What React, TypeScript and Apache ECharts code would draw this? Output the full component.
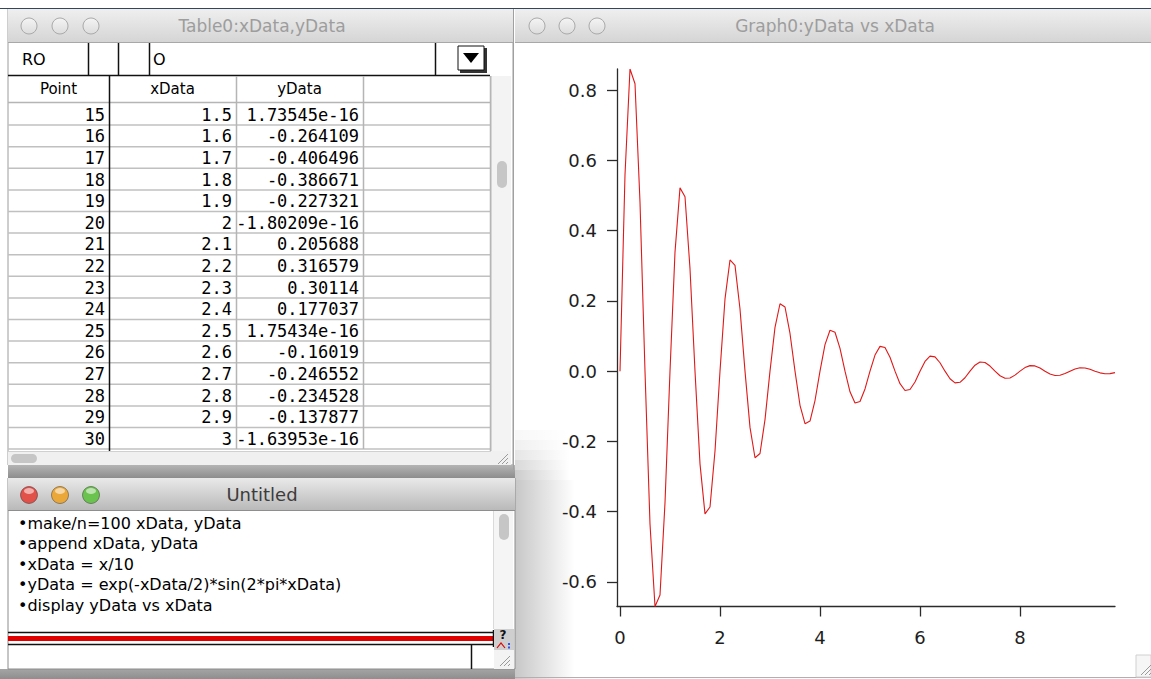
import React, { useEffect, useRef } from "react";
import * as echarts from "echarts";

// ---------- data ----------
const xData = [
  0, 0.1, 0.2, 0.3, 0.4, 0.5, 0.6, 0.7, 0.8, 0.9,
  1, 1.1, 1.2, 1.3, 1.4, 1.5, 1.6, 1.7, 1.8, 1.9,
  2, 2.1, 2.2, 2.3, 2.4, 2.5, 2.6, 2.7, 2.8, 2.9,
  3, 3.1, 3.2, 3.3, 3.4, 3.5, 3.6, 3.7, 3.8, 3.9,
  4, 4.1, 4.2, 4.3, 4.4, 4.5, 4.6, 4.7, 4.8, 4.9,
  5, 5.1, 5.2, 5.3, 5.4, 5.5, 5.6, 5.7, 5.8, 5.9,
  6, 6.1, 6.2, 6.3, 6.4, 6.5, 6.6, 6.7, 6.8, 6.9,
  7, 7.1, 7.2, 7.3, 7.4, 7.5, 7.6, 7.7, 7.8, 7.9,
  8, 8.1, 8.2, 8.3, 8.4, 8.5, 8.6, 8.7, 8.8, 8.9,
  9, 9.1, 9.2, 9.3, 9.4, 9.5, 9.6, 9.7, 9.8, 9.9,
];
const yData = [
  0, 0.5591, 0.8605, 0.8186, 0.4812, 0, -0.4354, -0.6702, -0.6375, -0.3748,
  0, 0.3391, 0.522, 0.4965, 0.2919, 0, -0.2641, -0.4065, -0.3867, -0.2273,
  0, 0.2057, 0.3166, 0.3011, 0.177, 0, -0.1602, -0.2466, -0.2345, -0.1379,
  0, 0.1248, 0.192, 0.1827, 0.1074, 0, -0.0972, -0.1495, -0.1422, -0.0836,
  0, 0.0757, 0.1165, 0.1108, 0.0651, 0, -0.0589, -0.0907, -0.0863, -0.0507,
  0, 0.0459, 0.0706, 0.0672, 0.0395, 0, -0.0357, -0.055, -0.0523, -0.0308,
  0, 0.0278, 0.0428, 0.0408, 0.024, 0, -0.0217, -0.0334, -0.0317, -0.0187,
  0, 0.0169, 0.026, 0.0247, 0.0145, 0, -0.0131, -0.0202, -0.0193, -0.0113,
  0, 0.0102, 0.0158, 0.015, 0.0088, 0, -0.008, -0.0123, -0.0117, -0.0069,
  0, 0.0062, 0.0096, 0.0091, 0.0053, 0, -0.0048, -0.0074, -0.0071, -0.0042,
];
const xTicks = [0, 2, 4, 6, 8];
const yTicks = [-0.6, -0.4, -0.2, 0, 0.2, 0.4, 0.6, 0.8];

const tablePoints = ["15", "16", "17", "18", "19", "20", "21", "22", "23", "24", "25", "26", "27", "28", "29", "30"];
const tableX = ["1.5", "1.6", "1.7", "1.8", "1.9", "2", "2.1", "2.2", "2.3", "2.4", "2.5", "2.6", "2.7", "2.8", "2.9", "3"];
const tableY = [
  "1.73545e-16", "-0.264109", "-0.406496", "-0.386671", "-0.227321", "-1.80209e-16",
  "0.205688", "0.316579", "0.30114", "0.177037", "1.75434e-16", "-0.16019",
  "-0.246552", "-0.234528", "-0.137877", "-1.63953e-16",
];
const tableHeaders = ["Point", "xData", "yData"];
const commandLines = [
  "•make/n=100 xData, yData",
  "•append xData, yData",
  "•xData = x/10",
  "•yData = exp(-xData/2)*sin(2*pi*xData)",
  "•display yData vs xData",
];
const tableTitle = "Table0:xData,yData";
const graphTitle = "Graph0:yData vs xData";
const cmdTitle = "Untitled";

// ---------- helpers ----------
const UI = "'DejaVu Sans', sans-serif";
const MONO = "'DejaVu Sans Mono', monospace";

function rect(x: number, y: number, w: number, h: number, fill: any, stroke?: string, z = 1, r = 0): any {
  return {
    type: "rect", z, silent: true,
    shape: { x, y, width: w, height: h, r },
    style: { fill, stroke: stroke || null, lineWidth: stroke ? 1 : 0 },
  };
}
function ln(x1: number, y1: number, x2: number, y2: number, stroke: string, lw = 1, z = 3): any {
  return { type: "line", z, silent: true, shape: { x1, y1, x2, y2 }, style: { stroke, lineWidth: lw } };
}
function txt(x: number, y: number, text: string, font: string, fill: string, align = "left", z = 4): any {
  return { type: "text", z, silent: true, x, y, style: { text, font, fill, align, verticalAlign: "middle" } };
}
function vgrad(c1: string, c2: string): any {
  return { type: "linear", x: 0, y: 0, x2: 0, y2: 1, colorStops: [{ offset: 0, color: c1 }, { offset: 1, color: c2 }] };
}
function hshadow(a: number): any {
  return { type: "linear", x: 0, y: 0, x2: 1, y2: 0, colorStops: [{ offset: 0, color: `rgba(0,0,0,${a})` }, { offset: 1, color: "rgba(0,0,0,0)" }] };
}
function light(cx: number, cy: number, active: string | null): any[] {
  if (!active) {
    return [{
      type: "circle", z: 4, silent: true, shape: { cx, cy, r: 8 },
      style: { fill: vgrad("#f4f4f4", "#dcdcdc"), stroke: "#a9a9a9", lineWidth: 1 },
    }];
  }
  return [
    { type: "circle", z: 4, silent: true, shape: { cx, cy, r: 8.5 }, style: { fill: active, stroke: "rgba(0,0,0,0.35)", lineWidth: 1 } },
    { type: "ellipse", z: 5, silent: true, shape: { cx, cy: cy - 4, rx: 5, ry: 3 }, style: { fill: "rgba(255,255,255,0.55)" } },
  ];
}
function grip(x: number, y: number): any[] {
  const out: any[] = [];
  for (let i = 0; i < 3; i++) {
    out.push(ln(x + 4 + i * 4, y + 14, x + 14, y + 4 + i * 4, "#9a9a9a", 1, 5));
  }
  return out;
}

function buildGraphics(): any[] {
  const g: any[] = [];
  // desktop top strip
  g.push(rect(0, 0, 1151, 8, "#ffffff", undefined, 0));
  g.push(ln(0, 8.5, 1151, 8.5, "#34465c", 1, 1));

  // ===== Table window =====
  const TL = 8, TR = 513;
  g.push(rect(TL, 9, TR - TL, 456, "#ffffff", "#9c9c9c", 0));
  g.push(rect(TL, 9, TR - TL, 33, vgrad("#efefef", "#d5d5d5"), undefined, 2));
  g.push(ln(TL, 42.5, TR, 42.5, "#a8a8a8", 1));
  g.push(...light(29, 26, null), ...light(60, 26, null), ...light(91, 26, null));
  g.push(txt(262, 26, tableTitle, "17px " + UI, "#9d9d9d", "center"));
  // entry line
  g.push(ln(TL, 75.5, 490, 75.5, "#111", 1.5));
  [88, 118, 149, 435].forEach((x) => g.push(ln(x + 0.5, 43, x + 0.5, 75, "#111", 1.5)));
  g.push(txt(22, 59, "RO", "16px " + UI, "#000"));
  g.push(txt(153, 59, "O", "16px " + UI, "#000"));
  g.push(rect(460, 48, 27, 25, "#333", undefined, 3));
  g.push(rect(458, 46, 26, 24, "#ffffff", "#111", 4));
  g.push({ type: "polygon", z: 5, silent: true, shape: { points: [[463, 53], [479, 53], [471, 63]] }, style: { fill: "#000" } });
  // header
  const colR = [109, 236, 363, 490];
  const colL = [TL, 109, 236, 363];
  tableHeaders.forEach((h, i) => g.push(txt((colL[i] + colR[i]) / 2, 89, h, "15px " + UI, "#000", "center")));
  g.push(ln(TL, 102.5, 490, 102.5, "#b5b5b5", 1.5));
  // rows
  const rowTop = 103, rowH = 21.6;
  tablePoints.forEach((p, i) => {
    const cy = rowTop + i * rowH + rowH / 2 + 1;
    g.push(txt(105, cy, p, "17px " + MONO, "#000", "right"));
    g.push(txt(232, cy, tableX[i], "17px " + MONO, "#000", "right"));
    g.push(txt(359, cy, tableY[i], "17px " + MONO, "#000", "right"));
    g.push(ln(TL, rowTop + (i + 1) * rowH + 0.5, 490, rowTop + (i + 1) * rowH + 0.5, "#c0c0c0", 1.5));
  });
  [236, 363].forEach((x) => g.push(ln(x + 0.5, 76, x + 0.5, 449, "#b5b5b5", 1.5)));
  g.push(ln(490.5, 76, 490.5, 451, "#b5b5b5", 1.5));
  g.push(ln(109.5, 76, 109.5, 452, "#111", 1.5));
  // scrollbars
  g.push(rect(491, 76, 20, 375, "#f3f3f3", undefined, 2));
  g.push(ln(491.5, 76, 491.5, 451, "#d4d4d4", 1));
  g.push(rect(497, 161, 10, 27, "#c6c6c6", undefined, 3, 5));
  g.push(rect(TL, 451, 483, 14, "#f0f0f0", undefined, 2));
  g.push(ln(TL, 451.5, 491, 451.5, "#d0d0d0", 1));
  g.push(rect(11, 454, 26, 9, "#c6c6c6", undefined, 3, 4.5));
  g.push(rect(491, 451, 20, 14, "#f0f0f0", undefined, 2));
  g.push(...grip(494, 450));
  // gap between windows
  g.push(rect(TL, 465, 507, 13, vgrad("#b4b4b4", "#8d8d8d"), undefined, 1));

  // ===== Untitled command window =====
  const UL = 8, UR = 515;
  g.push(rect(UL, 478, UR - UL, 191, "#ffffff", "#8c8c8c", 2));
  g.push(rect(UL, 478, UR - UL, 32, vgrad("#e9e9e9", "#b9b9b9"), undefined, 3));
  g.push(ln(UL, 510.5, UR, 510.5, "#8e8e8e", 1, 4));
  g.push(...light(29, 495, "#e2504a"), ...light(60, 495, "#eba83a"), ...light(91, 495, "#6bc34f"));
  g.push(txt(262, 494, cmdTitle, "18px " + UI, "#3c3c3c", "center"));
  commandLines.forEach((l, i) => g.push(txt(18, 523 + i * 20.5, l, "16px " + UI, "#000")));
  // right scrollbar
  g.push(rect(493, 511, 20, 118, "#f5f5f5", undefined, 3));
  g.push(ln(493.5, 511, 493.5, 629, "#dadada", 1, 4));
  g.push(rect(499, 514, 10, 26, "#c6c6c6", undefined, 4, 5));
  // separator
  g.push(ln(UL, 632.5, 493, 632.5, "#111", 1.5, 4));
  g.push(rect(UL, 636, 485, 5, "#e00000", undefined, 4));
  g.push(ln(UL, 644.5, 493, 644.5, "#111", 1.5, 4));
  g.push(ln(493.5, 630, 493.5, 647, "#111", 1.5, 4));
  g.push(rect(494, 629, 20, 21, "#cfcfcf", undefined, 4));
  g.push(txt(503, 635, "?", "bold 12px " + UI, "#111", "center", 5));
  g.push({ type: "polyline", z: 5, silent: true, shape: { points: [[497, 648], [501, 643], [505, 648]] }, style: { stroke: "#e00000", lineWidth: 1.2, fill: null } });
  g.push(rect(508, 643, 2, 2, "#3355ee", undefined, 5));
  g.push(rect(508, 646.5, 2, 2, "#3355ee", undefined, 5));
  g.push(ln(471.5, 645, 471.5, 669, "#111", 1.5, 4));
  g.push(rect(494, 650, 20, 19, "#f3f3f3", undefined, 4));
  g.push(...grip(496, 652));
  g.push(rect(0, 669, 515, 10, vgrad("#a5a5a5", "#8e8e8e"), undefined, 1));

  // ===== Graph window =====
  const GL = 515, GR = 1151;
  g.push(ln(GL - 1.5, 9, GL - 1.5, 470, "#a0a0a0", 1, 1));
  g.push(rect(GL, 9, GR - GL, 33, vgrad("#efefef", "#d5d5d5"), undefined, 1));
  g.push(ln(GL, 42.5, GR, 42.5, "#a8a8a8", 1, 1));
  g.push(...light(537, 26, null), ...light(567, 26, null), ...light(597, 26, null));
  g.push(txt(835, 26, graphTitle, "17px " + UI, "#9d9d9d", "center"));
  // soft shadow cast by the front window
  const shadowSteps = [[430, 0.03], [440, 0.06], [450, 0.1], [460, 0.15], [470, 0.2]];
  shadowSteps.forEach(([y, a]) => g.push({
    type: "rect", z: 0, silent: true, shape: { x: GL, y, width: 55, height: 10 }, style: { fill: hshadow(a) },
  }));
  g.push({ type: "rect", z: 0, silent: true, shape: { x: GL, y: 480, width: 60, height: 199 }, style: { fill: hshadow(0.22) } });
  g.push(ln(GL, 677.5, GR, 677.5, "#b0b0b0", 1, 1));
  g.push(rect(1136, 655, 15, 22, "#f6f6f6", "#d0d0d0", 1));
  g.push(...grip(1137, 661));
  return g;
}

export default function App() {
  const ref = useRef<HTMLDivElement>(null);
  useEffect(() => {
    if (!ref.current) return;
    const chart = echarts.init(ref.current, null, { renderer: "svg" });
    const axisColor = "#2b2b2b";
    chart.setOption({
      animation: false,
      backgroundColor: "#ffffff",
      grid: { left: 617, right: 36, top: 69, bottom: 72.5, containLabel: false },
      xAxis: {
        type: "value",
        min: -0.06,
        max: 9.9,
        axisLine: { show: true, onZero: false, lineStyle: { color: axisColor, width: 1.3 } },
        axisTick: { show: true, inside: false, length: 10, customValues: xTicks, lineStyle: { color: axisColor, width: 1.3 } },
        axisLabel: { customValues: xTicks, margin: 22, color: "#1e1e1e", fontSize: 18, fontFamily: UI, formatter: (v: number) => String(Math.round(v)) },
        splitLine: { show: false },
      },
      yAxis: {
        type: "value",
        min: -0.6702,
        max: 0.8605,
        axisLine: { show: true, onZero: false, lineStyle: { color: axisColor, width: 1.3 } },
        axisTick: { show: true, inside: false, length: 10, customValues: yTicks, lineStyle: { color: axisColor, width: 1.3 } },
        axisLabel: { customValues: yTicks, margin: 20, color: "#1e1e1e", fontSize: 18, fontFamily: UI, formatter: (v: number) => v.toFixed(1) },
        splitLine: { show: false },
      },
      graphic: { elements: buildGraphics() },
      series: [
        {
          type: "line",
          data: xData.map((x, i) => [x, yData[i]]),
          showSymbol: false,
          symbol: "none",
          lineStyle: { color: "#e01818", width: 1.1 },
          z: 5,
        },
      ],
    });
    return () => chart.dispose();
  }, []);
  return <div ref={ref} style={{ position: "fixed", left: 0, top: 0, width: 1151, height: 679 }} />;
}
